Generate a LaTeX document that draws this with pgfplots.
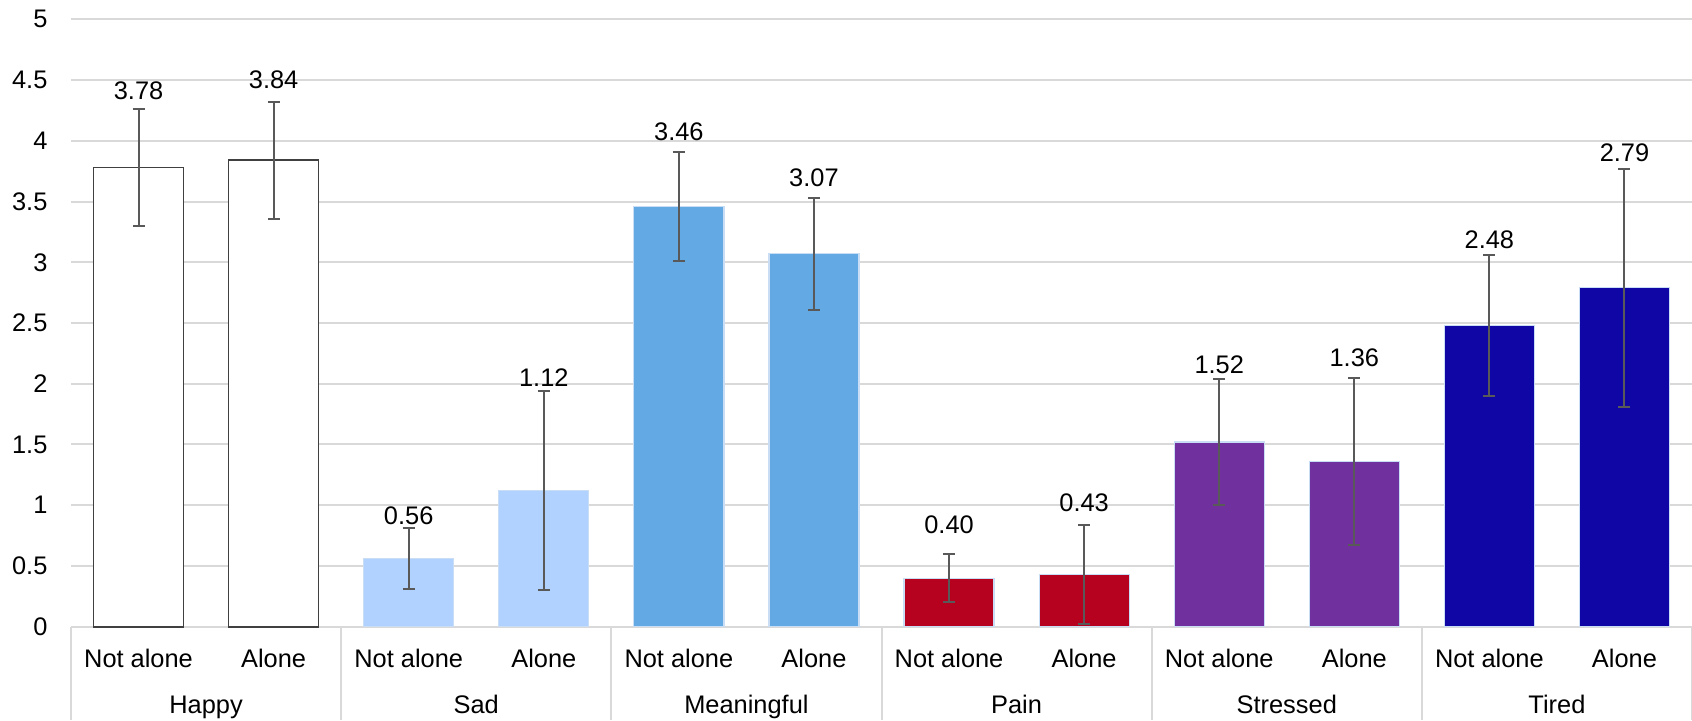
\documentclass[border=0pt]{standalone}
\usepackage{pgfplots}
\pgfplotsset{compat=1.18}
\usepackage{fontspec}
\setmainfont{Liberation Sans}
\definecolor{gridc}{HTML}{D9D9D9}
\definecolor{errc}{HTML}{595959}
\definecolor{sadc}{HTML}{B1D2FE}
\definecolor{meanc}{HTML}{63A9E3}
\definecolor{painc}{HTML}{B7021F}
\definecolor{strc}{HTML}{70309E}
\definecolor{tirc}{HTML}{1006A6}
\definecolor{edgec}{HTML}{C9DDF5}
\newcommand{\lblfont}{\fontsize{12.7}{15}\selectfont}
\begin{document}
\begin{tikzpicture}
\useasboundingbox (-35.5pt,-46.65pt) rectangle (810.5pt,313.35pt);
\begin{axis}[
  at={(0,0)}, anchor=south west,
  scale only axis, width=810.5pt, height=303.7pt,
  xmin=-0.5, xmax=11.5, ymin=0, ymax=5,
  ytick={0,0.5,1,1.5,2,2.5,3,3.5,4,4.5,5},
  xtick={0,1,2,3,4,5,6,7,8,9,10,11},
  xticklabels={Not alone,Alone,Not alone,Alone,Not alone,Alone,Not alone,Alone,Not alone,Alone,Not alone,Alone},
  major tick length=0pt,
  ymajorgrids, grid style={gridc, line width=1pt},
  axis line style={draw=none},
  tick label style={font=\lblfont},
  yticklabel style={anchor=east, inner sep=0pt, xshift=-11.6pt},
  xticklabel style={anchor=base, inner sep=0pt, yshift=-20.3pt},
  /pgf/number format/assume math mode=true,
  clip=false,
  bar width=0.6667,
  mybar/.style={ybar, bar shift=0pt,
    /pgfplots/error bars/y dir=both, /pgfplots/error bars/y explicit,
    /pgfplots/error bars/error bar style={errc, line width=1pt},
    /pgfplots/error bars/error mark options={errc, rotate=90, mark size=3pt, line width=1pt}},
]
\addplot[mybar, fill=white, draw=black!75, line width=0.8pt] coordinates {(0,3.78) +- (0,0.48) (1,3.84) +- (0,0.48)};
\addplot[mybar, fill=sadc, draw=edgec, line width=0.6pt] coordinates {(2,0.56) +- (0,0.25) (3,1.12) +- (0,0.82)};
\addplot[mybar, fill=meanc, draw=edgec, line width=0.6pt] coordinates {(4,3.46) +- (0,0.45) (5,3.07) +- (0,0.46)};
\addplot[mybar, fill=painc, draw=edgec, line width=0.6pt] coordinates {(6,0.40) +- (0,0.20) (7,0.43) +- (0,0.41)};
\addplot[mybar, fill=strc, draw=edgec, line width=0.6pt] coordinates {(8,1.52) +- (0,0.52) (9,1.36) +- (0,0.69)};
\addplot[mybar, fill=tirc, draw=edgec, line width=0.6pt] coordinates {(10,2.48) +- (0,0.58) (11,2.79) +- (0,0.98)};

\pgfplotsinvokeforeach{-0.5,1.5,3.5,5.5,7.5,9.5,11.5}{
  \draw[gridc, line width=1pt] (axis cs:#1,0) -- ([yshift=-46.65pt]axis cs:#1,0);
}
\node[anchor=base, font=\lblfont, inner sep=0pt] at ([yshift=-43.4pt]axis cs:0.5,0) {Happy};
\node[anchor=base, font=\lblfont, inner sep=0pt] at ([yshift=-43.4pt]axis cs:2.5,0) {Sad};
\node[anchor=base, font=\lblfont, inner sep=0pt] at ([yshift=-43.4pt]axis cs:4.5,0) {Meaningful};
\node[anchor=base, font=\lblfont, inner sep=0pt] at ([yshift=-43.4pt]axis cs:6.5,0) {Pain};
\node[anchor=base, font=\lblfont, inner sep=0pt] at ([yshift=-43.4pt]axis cs:8.5,0) {Stressed};
\node[anchor=base, font=\lblfont, inner sep=0pt] at ([yshift=-43.4pt]axis cs:10.5,0) {Tired};

\node[anchor=base, font=\lblfont, inner sep=0pt] at (axis cs:0,4.34) {3.78};
\node[anchor=base, font=\lblfont, inner sep=0pt] at (axis cs:1,4.43) {3.84};
\node[anchor=base, font=\lblfont, inner sep=0pt] at (axis cs:2,0.843) {0.56};
\node[anchor=base, font=\lblfont, inner sep=0pt] at (axis cs:3,1.977) {1.12};
\node[anchor=base, font=\lblfont, inner sep=0pt] at (axis cs:4,4.003) {3.46};
\node[anchor=base, font=\lblfont, inner sep=0pt] at (axis cs:5,3.62) {3.07};
\node[anchor=base, font=\lblfont, inner sep=0pt] at (axis cs:6,0.77) {0.40};
\node[anchor=base, font=\lblfont, inner sep=0pt] at (axis cs:7,0.947) {0.43};
\node[anchor=base, font=\lblfont, inner sep=0pt] at (axis cs:8,2.087) {1.52};
\node[anchor=base, font=\lblfont, inner sep=0pt] at (axis cs:9,2.14) {1.36};
\node[anchor=base, font=\lblfont, inner sep=0pt] at (axis cs:10,3.11) {2.48};
\node[anchor=base, font=\lblfont, inner sep=0pt] at (axis cs:11,3.83) {2.79};
\end{axis}
\end{tikzpicture}
\end{document}
